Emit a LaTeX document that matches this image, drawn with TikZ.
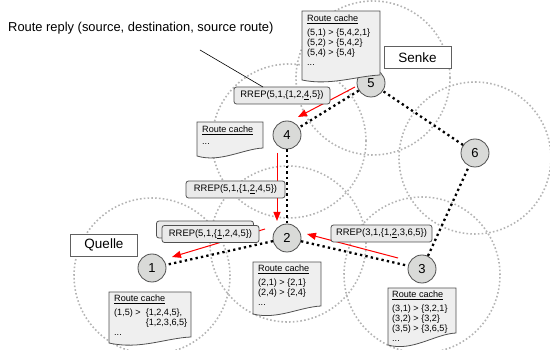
\documentclass[tikz,border=0pt]{standalone}
\usepackage{fontspec}
\setmainfont{Liberation Sans}
\usetikzlibrary{arrows.meta}
\definecolor{rangegray}{HTML}{B4B4B4}
\definecolor{nodefill}{HTML}{D9DAD8}
\definecolor{boxfill}{HTML}{EAEAEA}
\definecolor{cachefill}{HTML}{EFEFEF}
\definecolor{edgegray}{HTML}{505050}
\definecolor{tagedge}{HTML}{606060}

\begin{document}
\begin{tikzpicture}[x=1pt,y=-1pt,
  reach/.style={draw=rangegray, line width=1.6pt, dash pattern=on 1.6pt off 2.2pt},
  link/.style={draw=black, line width=2.3pt, dash pattern=on 2.3pt off 3.2pt},
  mote/.style={circle, draw=edgegray, fill=nodefill, line width=0.8pt,
    minimum size=28pt, inner sep=0pt, font=\fontsize{13}{13}\selectfont},
  rrep/.style={draw=edgegray, fill=boxfill, rounded corners=2.5pt, line width=0.8pt,
    minimum height=17pt, inner sep=0pt, font=\fontsize{9.4}{10}\selectfont},
  tagbox/.style={draw=tagedge, fill=white, line width=0.8pt, minimum width=67pt,
    minimum height=22pt, inner sep=0pt, font=\fontsize{13.5}{14}\selectfont},
  cache/.style={draw=edgegray, fill=cachefill, line width=0.8pt},
  cachetext/.style={anchor=north west, inner sep=0pt, align=left,
    font=\fontsize{9.1}{10}\selectfont},
  reply/.style={draw=red, line width=1pt, -{Triangle[length=9pt,width=7pt]}},
]
\useasboundingbox (0,0) rectangle (550,350);

% radio ranges of the motes
\draw[reach] (152,276) circle[radius=78pt];
\draw[reach] (288,244) circle[radius=78pt];
\draw[reach] (422,275) circle[radius=78pt];
\draw[reach] (289,141) circle[radius=77pt];
\draw[reach] (373,78) circle[radius=77pt];
\draw[reach] (475,158) circle[radius=76pt];

% motes
\node[mote] (n1) at (152,268) {1};
\node[mote] (n2) at (287,238) {2};
\node[mote] (n3) at (422,269) {3};
\node[mote] (n4) at (287,135) {4};
\node[mote] (n5) at (371,83) {5};
\node[mote] (n6) at (475,153) {6};

% route found between source and sink
\draw[link] (n5) -- (n4);
\draw[link] (n4) -- (n2);
\draw[link] (n2) -- (n1);
\draw[link] (n2) -- (n3);
\draw[link] (n3) -- (n6);
\draw[link] (n6) -- (n5);

% route replies travelling back
\coordinate (a54s) at (355,87);  \coordinate (a54e) at (298,117);
\coordinate (a42s) at (277,153); \coordinate (a42e) at (277,221);
\coordinate (a21s) at (265,229); \coordinate (a21e) at (172,257);
\coordinate (a32s) at (398,258); \coordinate (a32e) at (307,234);
\draw[reply] (a54s) -- (a54e);
\draw[reply] (a42s) -- (a42e);
\draw[reply] (a21s) -- (a21e);
\draw[reply] (a32s) -- (a32e);

% reply packets
\node[rrep, minimum width=96pt] (r54) at (282,95.5) {RREP(5,1,\{1,2,\underline{4},5\})};
\node[rrep, minimum width=99pt] (r42) at (235.5,189.5) {RREP(5,1,\{1,\underline{2},4,5\})};
\node[rrep, minimum width=97pt] (r21b) at (205,229.5) {};
\node[rrep, minimum width=97pt] (r21) at (210.5,234) {RREP(5,1,\{\underline{1},2,4,5\})};
\node[rrep, minimum width=101pt] (r32) at (381.5,233.5) {RREP(3,1,\{1,\underline{2},3,6,5\})};

% caption
\node[anchor=west, inner sep=0pt, font=\fontsize{12.9}{14}\selectfont] (title) at (8,28)
  {Route reply (source, destination, source route)};
\coordinate (pointer) at (200,50);
\coordinate (r54top) at (263,87);
\draw[line width=0.6pt] (pointer) -- (r54top);

% source and sink tags
\node[tagbox] (senke) at (417.5,57.5) {Senke};
\node[tagbox] (quelle) at (104,245) {Quelle};

% route caches
\draw[cache] (302,11) -- (380,11) -- (380,75)
  .. controls (357,76) and (330,86) .. (302,80) -- cycle;
\node[cachetext] (c5) at (307,15) {\underline{Route cache}\\[4pt]
  (5,1) > \{5,4,2,1\}\\(5,2) > \{5,4,2\}\\(5,4) > \{5,4\}\\...};

\draw[cache] (197,122) -- (263,122) -- (263,148)
  .. controls (243,149) and (220,163) .. (197,156) -- cycle;
\node[cachetext] (c4) at (202,126) {\underline{Route cache}\\[2pt]...};

\draw[cache] (253,262) -- (321,262) -- (321,306)
  .. controls (300,307) and (277,320) .. (253,314) -- cycle;
\node[cachetext] (c2) at (258,265) {\underline{Route cache}\\[4pt]
  (2,1) > \{2,1\}\\(2,4) > \{2,4\}\\...};

\draw[cache] (388,288) -- (456,288) -- (456,333)
  .. controls (435,334) and (412,352) .. (388,345) -- cycle;
\node[cachetext] (c3) at (392,291) {\underline{Route cache}\\[4pt]
  (3,1) > \{3,2,1\}\\(3,2) > \{3,2\}\\(3,5) > \{3,6,5\}\\...};

\draw[cache] (109,292) -- (191,292) -- (191,337)
  .. controls (166,338) and (140,350) .. (109,343) -- cycle;
\node[cachetext] (c1) at (114,295) {\underline{Route cache}\\[4pt]
  (1,5) >\hspace{5pt}\{1,2,4,5\},\\\hphantom{(1,5) >\hspace{5pt}}\{1,2,3,6,5\}\\...};
\end{tikzpicture}
\end{document}
